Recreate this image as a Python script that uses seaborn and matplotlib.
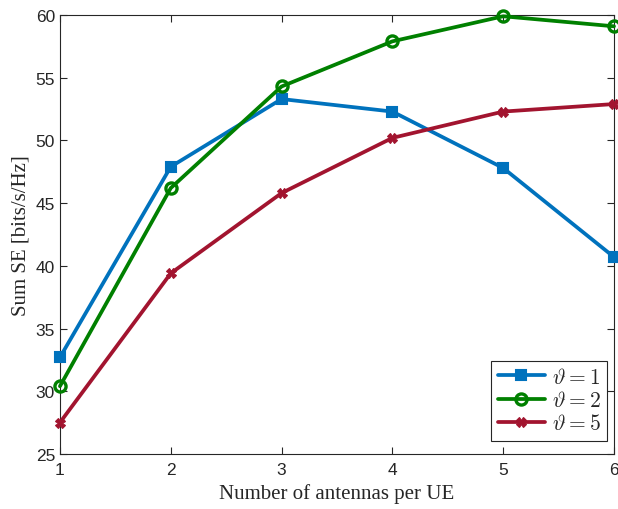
import matplotlib
matplotlib.use("Agg")
import matplotlib.pyplot as plt
import seaborn as sns
import pandas as pd

antennas = [1, 2, 3, 4, 5, 6]
se_theta1 = [32.7, 47.9, 53.3, 52.3, 47.8, 40.7]
se_theta2 = [30.4, 46.2, 54.3, 57.9, 59.9, 59.1]
se_theta5 = [27.5, 39.4, 45.8, 50.2, 52.3, 52.9]
labels = [r"$\vartheta = 1$", r"$\vartheta = 2$", r"$\vartheta = 5$"]
colors = ["#0072BD", "#008000", "#A2142F"]
y_ticks = [25, 30, 35, 40, 45, 50, 55, 60]

sns.set_theme(style="white")
plt.rcParams["font.family"] = ["Liberation Sans", "DejaVu Sans"]
plt.rcParams["mathtext.fontset"] = "cm"

fig = plt.figure(figsize=(6.18, 5.10), dpi=100)
ax = fig.add_axes([0.097, 0.108, 0.8965, 0.8606])

series = [se_theta1, se_theta2, se_theta5]
styles = [
    dict(marker="s", markersize=7, markerfacecolor=colors[0], markeredgewidth=1.5),
    dict(marker="o", markersize=8, markerfacecolor="none", markeredgewidth=2.4),
    dict(marker="X", markersize=7, markeredgewidth=0.8),
]
for vals, lab, col, st in zip(series, labels, colors, styles):
    df = pd.DataFrame({"x": antennas, "y": vals})
    sns.lineplot(data=df, x="x", y="y", ax=ax, color=col, linewidth=2.7,
                 label=lab, markeredgecolor=col, clip_on=False, zorder=3, **st)

ax.set_xlim(1, 6)
ax.set_ylim(25, 60)
ax.set_xticks(antennas)
ax.set_yticks(y_ticks)
edge = "#262626"
for s in ax.spines.values():
    s.set_visible(True)
    s.set_color(edge)
    s.set_linewidth(0.8)
ax.tick_params(direction="in", length=5, width=0.8, colors=edge, labelsize=12.5,
               top=True, right=True, left=True, bottom=True)
ax.tick_params(axis="x", pad=6)
ax.set_xlabel("Number of antennas per UE", family=["Liberation Serif"], fontsize=15, color=edge)
ax.set_ylabel("Sum SE [bits/s/Hz]", family=["Liberation Serif"], fontsize=15, color=edge)
ax.grid(False)

leg = ax.legend(loc="lower right", bbox_to_anchor=(0.987, 0.03), fontsize=15.5,
                frameon=True, fancybox=False, edgecolor=edge, framealpha=1,
                borderaxespad=0, handlelength=2.2, labelspacing=0.1,
                borderpad=0.3, handletextpad=0.3)
leg.get_frame().set_linewidth(0.8)

fig.savefig("out.png", dpi=100)
